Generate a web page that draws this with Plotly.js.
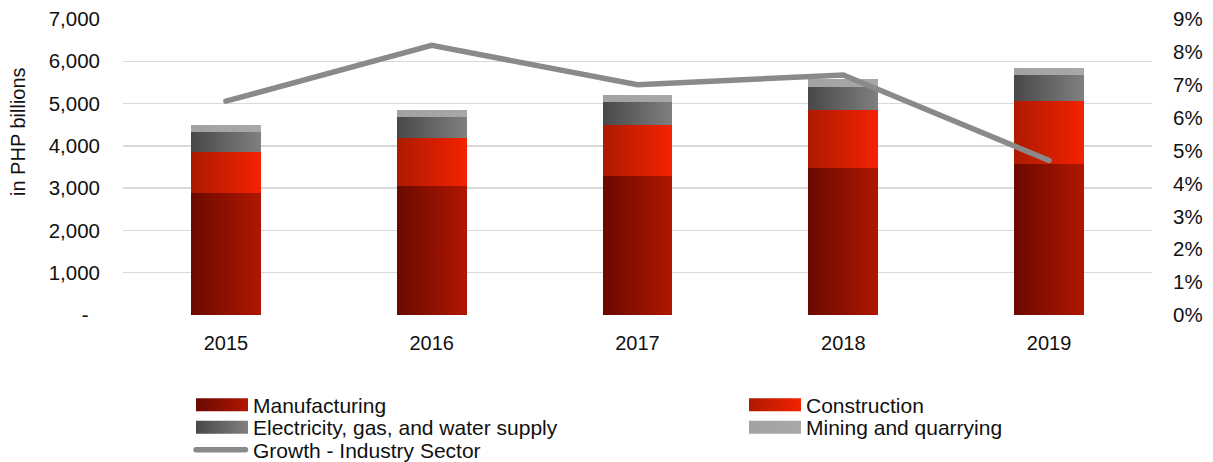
<!DOCTYPE html>
<html><head><meta charset="utf-8">
<script src="https://cdn.plot.ly/plotly-3.0.1.min.js"></script>
<style>html,body{margin:0;padding:0;background:#fff;}#chart{width:1213px;height:462px;}</style>
</head><body><div id="chart"></div>
<script>
// ---- data ----
const years = ['2015', '2016', '2017', '2018', '2019'];
const manufacturing = [2877, 3057, 3286, 3482, 3570];
const construction = [984, 1134, 1206, 1364, 1489];
const electricity = [472, 497, 536, 551, 615];
const mining = [159, 158, 173, 175, 158];
const growth = [0.065, 0.082, 0.070, 0.073, 0.047];
const leftTickVals = [0, 1000, 2000, 3000, 4000, 5000, 6000, 7000];
const leftTickText = ['-\u00a0\u00a0', '1,000', '2,000', '3,000', '4,000', '5,000', '6,000', '7,000'];
const seriesNames = ['Manufacturing', 'Construction', 'Electricity, gas, and water supply', 'Mining and quarrying', 'Growth - Industry Sector'];

const FONT = '"Liberation Sans", Arial, sans-serif';
const TXT = '#111111';
const grads = [
  {id: 'gManuf', from: '#6a0900', to: '#b01700'},
  {id: 'gConst', from: '#ad1a00', to: '#f42200'},
  {id: 'gElec', from: '#484848', to: '#808080'},
  {id: 'gMine', from: '#a2a2a2', to: '#a8a8a8'}
];
const legendIds = ['legend', 'legend2', 'legend3', 'legend4', 'legend5'];

const barVals = [manufacturing, construction, electricity, mining];
const midColors = ['#8d1000', '#d01e00', '#646464', '#a5a5a5'];
const traces = barVals.map((v, i) => ({
  type: 'bar', x: years, y: v, name: seriesNames[i],
  marker: {color: midColors[i], line: {width: 0}},
  width: 0.34, legend: legendIds[i], hoverinfo: 'skip'
}));
traces.push({
  type: 'scatter', mode: 'lines', x: years, y: growth, yaxis: 'y2',
  name: seriesNames[4], line: {color: '#8a8a8a', width: 5.5},
  legend: legendIds[4], hoverinfo: 'skip'
});

const plotTop = 19, plotBottom = 315, plotLeft = 123, plotRight = 1152;
const ph = plotBottom - plotTop, pw = plotRight - plotLeft;
function py(px) { return (plotBottom - px) / ph; }
function pxx(px) { return (px - plotLeft) / pw; }

function legendCfg(xpx, ypx) {
  return {
    x: pxx(xpx), y: py(ypx), xanchor: 'left', yanchor: 'middle',
    orientation: 'v', bgcolor: 'rgba(0,0,0,0)', borderwidth: 0,
    itemwidth: 52, traceorder: 'normal',
    font: {family: FONT, size: 21, color: TXT}
  };
}

const layout = {
  width: 1213, height: 462,
  margin: {l: plotLeft, r: 1213 - plotRight, t: plotTop, b: 462 - plotBottom, pad: 0, autoexpand: false},
  paper_bgcolor: '#ffffff', plot_bgcolor: '#ffffff',
  font: {family: FONT, size: 20, color: TXT},
  barmode: 'stack',
  showlegend: true,
  xaxis: {
    type: 'category', showgrid: false, zeroline: false, showline: false,
    ticks: '', ticklabelstandoff: 14,
    tickfont: {family: FONT, size: 20, color: TXT}
  },
  yaxis: {
    range: [0, 7000], tickvals: leftTickVals, ticktext: leftTickText,
    showgrid: true, gridcolor: '#d9d9d9', gridwidth: 1.3,
    zeroline: false, showline: false, ticks: '', ticklabelstandoff: 22,
    tickfont: {family: FONT, size: 20.5, color: TXT}
  },
  yaxis2: {
    overlaying: 'y', side: 'right', range: [0, 0.09], dtick: 0.01,
    tickformat: '.0%', showgrid: false, zeroline: false, showline: false,
    ticks: '', ticklabelstandoff: 20,
    tickfont: {family: FONT, size: 20.5, color: TXT}
  },
  legend: legendCfg(191, 405),
  legend2: legendCfg(744, 405),
  legend3: legendCfg(191, 427.5),
  legend4: legendCfg(744, 427.5),
  legend5: legendCfg(191, 450),
  annotations: [{
    text: 'in PHP billions', xref: 'paper', yref: 'paper',
    x: pxx(18), y: py(132), xanchor: 'center', yanchor: 'middle',
    textangle: -90, showarrow: false,
    font: {family: FONT, size: 20, color: TXT}
  }]
};

function applyStyle(gd) {
  const NS = 'http://www.w3.org/2000/svg';
  const defs = gd.querySelector('svg.main-svg defs');
  grads.forEach(g => {
    const lg = document.createElementNS(NS, 'linearGradient');
    lg.setAttribute('id', g.id);
    lg.setAttribute('x1', '0'); lg.setAttribute('y1', '0');
    lg.setAttribute('x2', '1'); lg.setAttribute('y2', '0');
    [[0, g.from], [1, g.to]].forEach(([o, c]) => {
      const s = document.createElementNS(NS, 'stop');
      s.setAttribute('offset', o); s.setAttribute('stop-color', c);
      lg.appendChild(s);
    });
    defs.appendChild(lg);
  });
  const barTraces = gd.querySelectorAll('.barlayer .trace');
  barTraces.forEach((t, i) => {
    t.querySelectorAll('path').forEach(p => { p.style.fill = 'url(#' + grads[i].id + ')'; });
  });
  gd.querySelectorAll('.scatterlayer .js-line').forEach(p => {
    p.style.strokeLinecap = 'round';
  });
  legendIds.forEach((id, i) => {
    const lg = gd.querySelector('g.' + id);
    if (!lg) return;
    if (i < 4) {
      lg.querySelectorAll('.legendpoints path').forEach(p => {
        p.setAttribute('d', 'M26,6.5H-26V-6.5H26Z');
        p.style.fill = 'url(#' + grads[i].id + ')';
        p.style.stroke = 'none';
      });
    } else {
      lg.querySelectorAll('.legendlines path').forEach(p => {
        p.setAttribute('d', 'M5,0h49.5');
        p.style.strokeLinecap = 'round';
      });
    }
  });
}

Plotly.newPlot('chart', traces, layout, {displayModeBar: false, staticPlot: true}).then(applyStyle);
</script>
</body></html>
